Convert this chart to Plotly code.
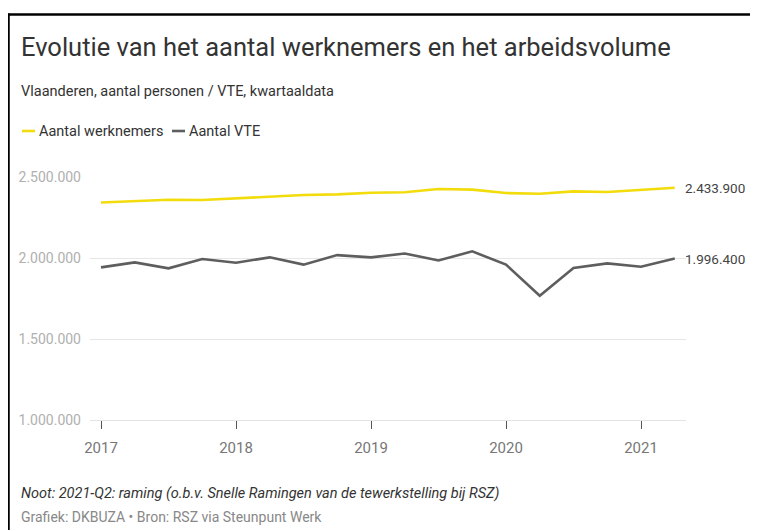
import plotly.graph_objects as go

# quarterly data, Vlaanderen
quarters = ["2017-Q1", "2017-Q2", "2017-Q3", "2017-Q4",
            "2018-Q1", "2018-Q2", "2018-Q3", "2018-Q4",
            "2019-Q1", "2019-Q2", "2019-Q3", "2019-Q4",
            "2020-Q1", "2020-Q2", "2020-Q3", "2020-Q4",
            "2021-Q1", "2021-Q2"]
werknemers = [2343000, 2352000, 2360000, 2358000, 2368000, 2376000, 2389000, 2393000, 2403000,
              2406000, 2426000, 2422000, 2401000, 2397000, 2411000, 2407000, 2420000, 2433900]
vte = [1942000, 1973000, 1936000, 1994000, 1971000, 2004000, 1959000, 2018000, 2004000,
       2028000, 1985000, 2041000, 1959000, 1767000, 1938000, 1967000, 1946000, 1996400]
years = ["2017", "2018", "2019", "2020", "2021"]
y_ticks = [1000000, 1500000, 2000000, 2500000]
series_names = ["Aantal werknemers", "Aantal VTE"]

color_yellow = '#f2dc0c'
color_gray = '#5e5e5e'
font_main = 'Roboto, Arial, sans-serif'

# page body has an 8px margin, so the figure is a bit smaller than the window
OFF = 8
W, H = 750, 523
L, R, T, B = 82, 72, 169, 111


def px(x):
    # x in window pixels -> paper
    return (x - OFF - L) / (W - L - R)


def py(y):
    # y in window pixels -> paper
    return (H - B - (y - OFF)) / (H - T - B)


def fmt(v):
    return '{:,}'.format(v).replace(',', '.')


x_pos = list(range(len(quarters)))

fig = go.Figure()
for name, values, color in [(series_names[0], werknemers, color_yellow),
                            (series_names[1], vte, color_gray)]:
    fig.add_trace(go.Scatter(x=x_pos, y=values, name=name, mode='lines',
                             line=dict(color=color, width=2.6),
                             hoverinfo='text', text=quarters))
    # value label at the end of the line
    fig.add_annotation(x=x_pos[-1], y=values[-1], text=fmt(values[-1]),
                       xanchor='left', yanchor='middle', xshift=8, showarrow=False,
                       font=dict(size=13.5, color='#444444'))

# titles and notes
texts = [
    ("Evolutie van het aantal werknemers en het arbeidsvolume", 19, 47, 25.5, '#333333'),
    ("Vlaanderen, aantal personen / VTE, kwartaaldata", 19, 91, 14.5, '#333333'),
    ("<i>Noot: 2021-Q2: raming (o.b.v. Snelle Ramingen van de tewerkstelling bij RSZ)</i>", 19, 493, 14.5, '#333333'),
    ("Grafiek: DKBUZA • Bron: RSZ via Steunpunt Werk", 19, 517, 14, '#888888'),
]
for text, x, y, size, color in texts:
    fig.add_annotation(x=px(x), y=py(y), xref='paper', yref='paper', text=text,
                       xanchor='left', yanchor='middle', showarrow=False,
                       font=dict(size=size, color=color))

# manual legend
legend_x = [22, 172]
for name, color, x in zip(series_names, [color_yellow, color_gray], legend_x):
    fig.add_shape(type='line', xref='paper', yref='paper',
                  x0=px(x), x1=px(x + 13), y0=py(131), y1=py(131),
                  line=dict(color=color, width=2.6))
    fig.add_annotation(x=px(x + 15), y=py(131), xref='paper', yref='paper', text=name,
                       xanchor='left', yanchor='middle', showarrow=False,
                       font=dict(size=14.5, color='#333333'))

# frame lines (top and left)
fig.add_shape(type='line', xref='paper', yref='paper', x0=px(7.5), x1=px(757),
              y0=py(14.5), y1=py(14.5), line=dict(color='black', width=2.5))
fig.add_shape(type='line', xref='paper', yref='paper', x0=px(8.5), x1=px(8.5),
              y0=py(13.5), y1=py(530), line=dict(color='black', width=2.5))

fig.update_layout(width=W, height=H, margin=dict(l=L, r=R, t=T, b=B),
                  paper_bgcolor='white', plot_bgcolor='white',
                  showlegend=False, separators=',.',
                  font=dict(family=font_main, color='#333333'))
fig.update_xaxes(range=[-11 / 33.75, 585 / 33.75],
                 tickvals=[quarters.index(y + '-Q1') for y in years], ticktext=years,
                 showgrid=False, zeroline=False,
                 showline=True, linecolor='#e3e3e3', linewidth=1,
                 ticks='outside', ticklen=8, tickcolor='#555555', tickwidth=1,
                 ticklabelstandoff=6,
                 tickfont=dict(size=15, color='#777777'))
fig.update_yaxes(range=[1000000, 2500000], tickvals=y_ticks, tickformat=',d',
                 showgrid=True, gridcolor='#e6e6e6', gridwidth=1, zeroline=False,
                 showline=False, ticks='', ticklabelstandoff=8,
                 tickfont=dict(size=14, color='#b0b0b0'))

fig.write_html("out.html")
